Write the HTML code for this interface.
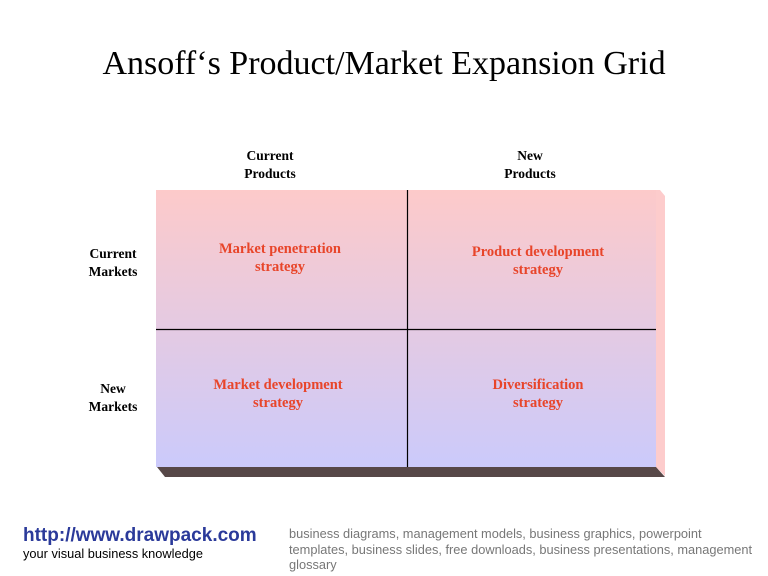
<!DOCTYPE html>
<html><head><style>
body{margin:0;width:768px;height:576px;background:#fff;position:relative;overflow:hidden;font-family:"Liberation Serif",serif}
.t{position:absolute;text-align:center;font-weight:bold;font-size:13.5px;line-height:18px}
.r{color:#e8452a;font-size:14.5px}
</style></head><body>
<div style="position:absolute;left:0;width:768px;top:44px;text-align:center;font-size:34px;line-height:40px">Ansoff‘s Product/Market Expansion Grid</div>
<svg width="768" height="576" style="position:absolute;left:0;top:0">
<defs><linearGradient id="g" x1="0" y1="0" x2="0" y2="1"><stop offset="0" stop-color="#fdcaca"/><stop offset="1" stop-color="#cbcafb"/></linearGradient></defs>
<polygon points="656,190 660,190 665,196 665,476 656,467" fill="#fdcccc"/>
<polygon points="157,467 656,467 665,477 165,477" fill="#574848"/>
<rect x="156" y="190" width="500" height="277" fill="url(#g)"/>
<line x1="407.5" y1="190" x2="407.5" y2="467" stroke="#000" stroke-width="1.2"/>
<line x1="156" y1="329.5" x2="656" y2="329.5" stroke="#000" stroke-width="1.2"/>
</svg>
<div class="t" style="left:220px;width:100px;top:147px">Current<br>Products</div>
<div class="t" style="left:480px;width:100px;top:147px">New<br>Products</div>
<div class="t" style="left:70px;width:86px;top:245px">Current<br>Markets</div>
<div class="t" style="left:70px;width:86px;top:380px">New<br>Markets</div>
<div class="t r" style="left:180px;width:200px;top:240px">Market penetration<br>strategy</div>
<div class="t r" style="left:438px;width:200px;top:243px">Product development<br>strategy</div>
<div class="t r" style="left:178px;width:200px;top:376px">Market development<br>strategy</div>
<div class="t r" style="left:438px;width:200px;top:376px">Diversification<br>strategy</div>
<div style="position:absolute;left:23px;top:525px;font-family:'Liberation Sans',sans-serif;font-weight:bold;font-size:19px;color:#2b3a9a">http://www.drawpack.com</div>
<div style="position:absolute;left:23px;top:546px;font-family:'Liberation Sans',sans-serif;font-size:12.8px;color:#000">your visual business knowledge</div>
<div style="position:absolute;left:289px;top:526px;width:470px;font-family:'Liberation Sans',sans-serif;font-size:12.8px;line-height:15.5px;color:#777">business diagrams, management models, business graphics, powerpoint<br>templates, business slides, free downloads, business presentations, management<br>glossary</div>
</body></html>
